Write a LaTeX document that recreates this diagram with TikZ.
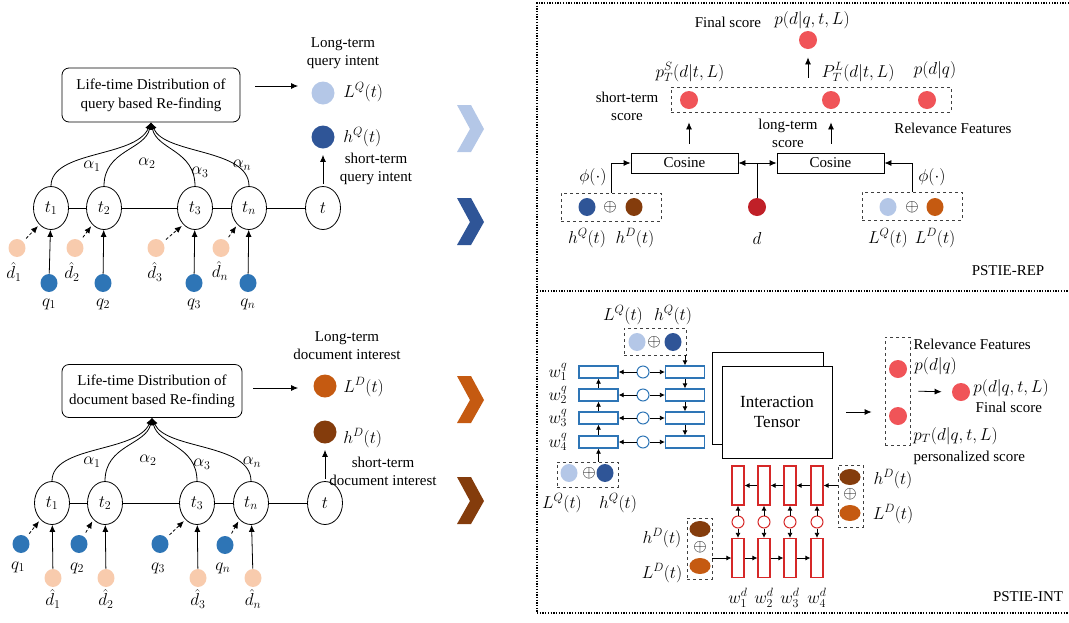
\documentclass[tikz,border=0pt]{standalone}
\usepackage{fontspec}
\setmainfont{Liberation Serif}
\usepackage{tikz}
\usetikzlibrary{arrows.meta,
                positioning,
                shapes.geometric
            }

\definecolor{lightq}{RGB}{180,199,231}
\definecolor{darkq}{RGB}{47,85,151}
\definecolor{qblue}{RGB}{46,117,182}
\definecolor{peach}{RGB}{248,203,173}
\definecolor{orngd}{RGB}{197,90,17}
\definecolor{brownd}{RGB}{132,60,12}
\definecolor{scorered}{RGB}{240,84,88}
\definecolor{docred}{RGB}{192,32,40}
\definecolor{rectred}{RGB}{214,40,40}

\begin{document}
\begin{tikzpicture}[x=1pt, y=-1pt, line width=0.8pt,
        every node/.style={font=\fontsize{15}{18}\selectfont},
        mth/.style={font=\fontsize{16.5}{18}\selectfont, inner sep=0pt},
        lifebox/.style={draw, rounded corners=7pt, align=center, minimum width=178pt, minimum height=54pt, inner sep=0pt, font=\fontsize{15}{19}\selectfont},
        tnode/.style={draw, ellipse, minimum width=35pt, minimum height=43pt, inner sep=0pt, font=\fontsize{16.5}{18}\selectfont},
        ball/.style={ellipse, minimum width=17pt, minimum height=18pt, inner sep=0pt},
        hball/.style={ellipse, minimum width=21pt, minimum height=16pt, inner sep=0pt},
        bigball/.style={circle, minimum size=23pt, inner sep=0pt},
        sball/.style={circle, minimum size=18pt, inner sep=0pt},
        dbox/.style={draw=black!75, dashed, inner sep=0pt},
        brect/.style={draw=qblue, line width=1.3pt, minimum width=39pt, minimum height=12pt, inner sep=0pt},
        bring/.style={circle, draw=qblue, line width=1pt, minimum size=12pt, inner sep=0pt},
        rrect/.style={draw=rectred, line width=1.2pt, minimum width=12pt, minimum height=39pt, inner sep=0pt},
        rring/.style={circle, draw=rectred, line width=1pt, minimum size=12pt, inner sep=0pt},
        arr/.style={-{Latex[length=7pt, width=6pt]}},
        sarr/.style={-{Latex[length=5pt, width=5pt]}},
        panel/.style={line width=1.3pt, dash pattern=on 1.3pt off 1.4pt}
    ]
    \useasboundingbox (0,0) rectangle (1069,622);

    \node[lifebox] (qlife) at (151,95) {Life-time Distribution of\\query based Re-finding};
    \node[tnode] (qt1) at (51,208) {$t_1$};
    \node[tnode] (qt2) at (104,208) {$t_2$};
    \node[tnode] (qt3) at (195,208) {$t_3$};
    \node[tnode] (qtn) at (249,208) {$t_n$};
    \node[tnode] (qt) at (323,208) {$t$};
    \draw (qt1) -- (qt2) -- (qt3) -- (qtn) -- (qt);
    \draw[arr] (qt1.north) .. controls (51,150) and (135,158) .. (qlife.south);
    \draw[arr] (qt2.north) .. controls (104,150) and (145,150) .. (qlife.south);
    \draw[arr] (qt3.north) .. controls (195,150) and (157,150) .. (qlife.south);
    \draw[arr] (qtn.north) .. controls (249,148) and (165,155) .. (qlife.south);
    \node[mth] (qa1) at (92,166) {$\alpha_1$};
    \node[mth] (qa2) at (147,163) {$\alpha_2$};
    \node[mth] (qa3) at (200,172) {$\alpha_3$};
    \node[mth] (qan) at (242,165) {$\alpha_n$};
    \node[ball, fill=peach] (qdh1) at (17,248) {};
    \node[ball, fill=peach] (qdh2) at (75,248) {};
    \node[ball, fill=peach] (qdh3) at (156,248) {};
    \node[ball, fill=peach] (qdhn) at (221,248) {};
    \node[ball, fill=qblue] (qq1) at (49,283) {};
    \node[ball, fill=qblue] (qq2) at (103,283) {};
    \node[ball, fill=qblue] (qq3) at (194,283) {};
    \node[ball, fill=qblue] (qqn) at (248,283) {};
    \draw[arr, densely dashed, shorten <=4pt, shorten >=2pt] (qdh1) -- (qt1.235);
    \draw[arr, densely dashed, shorten <=4pt, shorten >=2pt] (qdh2) -- (qt2.235);
    \draw[arr, densely dashed, shorten <=4pt, shorten >=2pt] (qdh3) -- (qt3.235);
    \draw[arr, densely dashed, shorten <=4pt, shorten >=2pt] (qdhn) -- (qtn.235);
    \draw[arr] (qq1) -- (qt1);
    \draw[arr] (qq2) -- (qt2);
    \draw[arr] (qq3) -- (qt3);
    \draw[arr] (qqn) -- (qtn);
    \node[mth] (qdh1l) at (14,272) {$\hat{d}_1$};
    \node[mth] (qdh2l) at (72,272) {$\hat{d}_2$};
    \node[mth] (qdh3l) at (155,272) {$\hat{d}_3$};
    \node[mth] (qdhnl) at (220,271) {$\hat{d}_n$};
    \node[mth] (qq1l) at (49,304) {$q_1$};
    \node[mth] (qq2l) at (103,304) {$q_2$};
    \node[mth] (qq3l) at (194,304) {$q_3$};
    \node[mth] (qqnl) at (248,304) {$q_n$};
    \node[bigball, fill=lightq] (lq) at (323,93) {};
    \node[bigball, fill=darkq] (hq) at (323,137) {};
    \node[mth, anchor=west] (lqlab) at (343,92) {$L^Q(t)$};
    \node[mth, anchor=west] (hqlab) at (343,137) {$h^Q(t)$};
    \node[align=center] (qlong) at (343,53) {Long-term\\query intent};
    \node[align=center] (qshort) at (376,169) {short-term\\query intent};
    \draw[arr] ([xshift=15pt, yshift=9pt]qlife.east) -- ([xshift=-13pt, yshift=7pt]lq.west);
    \draw[arr, shorten <=2pt, shorten >=6pt] (qt) -- (hq);

    \node[lifebox, minimum width=180pt, minimum height=53pt] (dlife) at (152,391) {Life-time Distribution of\\document based Re-finding};
    \node[tnode] (dt1) at (52,503) {$t_1$};
    \node[tnode] (dt2) at (105,503) {$t_2$};
    \node[tnode] (dt3) at (197,503) {$t_3$};
    \node[tnode] (dtn) at (251,503) {$t_n$};
    \node[tnode] (dt) at (325,503) {$t$};
    \draw (dt1) -- (dt2) -- (dt3) -- (dtn) -- (dt);
    \draw[arr] (dt1.north) .. controls (52,445) and (136,453) .. (dlife.south);
    \draw[arr] (dt2.north) .. controls (105,445) and (146,445) .. (dlife.south);
    \draw[arr] (dt3.north) .. controls (197,445) and (158,445) .. (dlife.south);
    \draw[arr] (dtn.north) .. controls (251,443) and (166,450) .. (dlife.south);
    \node[mth] (da1) at (92,462) {$\alpha_1$};
    \node[mth] (da2) at (148,460) {$\alpha_2$};
    \node[mth] (da3) at (202,464) {$\alpha_3$};
    \node[mth] (dan) at (252,462) {$\alpha_n$};
    \node[ball, fill=qblue] (dq1) at (21,544) {};
    \node[ball, fill=qblue] (dq2) at (79,544) {};
    \node[ball, fill=qblue] (dq3) at (160,544) {};
    \node[ball, fill=qblue] (dqn) at (225,545) {};
    \node[ball, fill=peach] (ddh1) at (53,578) {};
    \node[ball, fill=peach] (ddh2) at (106,578) {};
    \node[ball, fill=peach] (ddh3) at (198,578) {};
    \node[ball, fill=peach] (ddhn) at (253,578) {};
    \draw[arr, densely dashed, shorten <=4pt, shorten >=2pt] (dq1) -- (dt1.235);
    \draw[arr, densely dashed, shorten <=4pt, shorten >=2pt] (dq2) -- (dt2.235);
    \draw[arr, densely dashed, shorten <=4pt, shorten >=2pt] (dq3) -- (dt3.235);
    \draw[arr, densely dashed, shorten <=4pt, shorten >=2pt] (dqn) -- (dtn.235);
    \draw[arr] (ddh1) -- (dt1);
    \draw[arr] (ddh2) -- (dt2);
    \draw[arr] (ddh3) -- (dt3);
    \draw[arr] (ddhn) -- (dtn);
    \node[mth] (dq1l) at (18,567) {$q_1$};
    \node[mth] (dq2l) at (77,568) {$q_2$};
    \node[mth] (dq3l) at (158,568) {$q_3$};
    \node[mth] (dqnl) at (223,568) {$q_n$};
    \node[mth] (ddh1l) at (53,599) {$\hat{d}_1$};
    \node[mth] (ddh2l) at (106,599) {$\hat{d}_2$};
    \node[mth] (ddh3l) at (198,599) {$\hat{d}_3$};
    \node[mth] (ddhnl) at (253,599) {$\hat{d}_n$};
    \node[bigball, fill=orngd] (ld) at (325,386) {};
    \node[bigball, fill=brownd] (hd) at (325,432) {};
    \node[mth, anchor=west] (ldlab) at (343,387) {$L^D(t)$};
    \node[mth, anchor=west] (hdlab) at (343,438) {$h^D(t)$};
    \node[align=center] (dlong) at (347,346) {Long-term\\document interest};
    \node[align=center] (dshort) at (383,471) {short-term\\document interest};
    \draw[arr] ([xshift=11pt, yshift=3pt]dlife.east) -- ([xshift=-15pt, yshift=-2pt]ld.west);
    \draw[arr, shorten <=2pt, shorten >=6pt] (dt) -- (hd);

    \fill[lightq] (457,105) -- (471,105) -- (484,129) -- (471,152) -- (457,152) -- (470,129) -- cycle;
    \fill[darkq] (457,198) -- (471,198) -- (484,222) -- (471,245) -- (457,245) -- (470,222) -- cycle;
    \fill[orngd] (457,376) -- (471,376) -- (484,400) -- (471,423) -- (457,423) -- (470,400) -- cycle;
    \fill[brownd] (457,477) -- (471,477) -- (484,501) -- (471,524) -- (457,524) -- (470,501) -- cycle;

    \draw[panel] (1069,3) -- (537,3) -- (537,613) -- (1069,613);
    \draw[panel] (537,291) -- (1069,291);

    \node[sball, fill=scorered] (fin) at (808,40) {};
    \node (finlab) at (728,22) {Final score};
    \node[mth] (finp) at (812,20) {$p(d|q,t,L)$};
    \node[dbox, minimum width=280pt, minimum height=25pt] (relbox) at (811,99.5) {};
    \node[sball, fill=scorered] (srel) at (689,100) {};
    \node[sball, fill=scorered] (lrel) at (831,100) {};
    \node[sball, fill=scorered] (prel) at (927,100) {};
    \node[mth] (srellab) at (690,72) {$p_T^S(d|t,L)$};
    \node[mth] (lrellab) at (858,72) {$P_T^L(d|t,L)$};
    \node[mth] (prellab) at (935,70) {$p(d|q)$};
    \node[align=center] (sscore) at (627,106) {short-term\\score};
    \node[align=center] (lscore) at (788,133) {long-term\\score};
    \node (relfeat) at (953,128) {Relevance Features};
    \draw[arr, shorten <=9pt, shorten >=8pt] (relbox.north -| fin) -- (fin);
    \node[draw, minimum width=107pt, minimum height=20pt, inner sep=0pt] (cos1) at (684.5,163) {Cosine};
    \node[draw, minimum width=107pt, minimum height=20pt, inner sep=0pt] (cos2) at (830.5,163) {Cosine};
    \draw[arr, shorten <=9pt, shorten >=10pt] (cos1.north -| srel) -- (srel |- relbox.south);
    \draw[arr, shorten <=9pt, shorten >=10pt] (cos2.north -| lrel) -- (lrel |- relbox.south);
    \node[sball, fill=docred] (dvec) at (757,207) {};
    \node[mth] (dlab) at (757,238) {$d$};
    \coordinate (dsplit) at (757,163);
    \draw (dvec) -- (dsplit);
    \draw[arr] (dsplit) -- (cos1.east);
    \draw[arr] (dsplit) -- (cos2.west);
    \node[dbox, minimum width=100pt, minimum height=28pt] (hcat) at (611,207) {};
    \node[ball, fill=darkq] (hcatq) at (587,207) {};
    \node[mth] (hcatp) at (610,207) {$\oplus$};
    \node[ball, fill=brownd] (hcatd) at (634,207) {};
    \draw[arr] (hcat.north) |- (cos1.west);
    \node[mth] (hphi) at (593,177) {$\phi(\cdot)$};
    \node[mth] (hcatql) at (587,238) {$h^Q(t)$};
    \node[mth] (hcatdl) at (635,238) {$h^D(t)$};
    \node[dbox, minimum width=100pt, minimum height=28pt] (lcat) at (912,206) {};
    \node[ball, fill=lightq] (lcatq) at (888,207) {};
    \node[mth] (lcatp) at (912,207) {$\oplus$};
    \node[ball, fill=orngd] (lcatd) at (935,207) {};
    \draw[arr] (lcat.north) |- (cos2.east);
    \node[mth] (lphi) at (932,177) {$\phi(\cdot)$};
    \node[mth] (lcatql) at (888,238) {$L^Q(t)$};
    \node[mth] (lcatdl) at (935,238) {$L^D(t)$};
    \node (rep) at (1008,271) {PSTIE-REP};

    \node[mth] (qtopl1) at (623,315) {$L^Q(t)$};
    \node[mth] (qtopl2) at (673,315) {$h^Q(t)$};
    \node[dbox, minimum width=62pt, minimum height=27pt] (qtop) at (655,341.5) {};
    \node[ball, fill=lightq] (qtopq) at (637,342) {};
    \node[mth] (qtopp) at (654,342) {$\oplus$};
    \node[ball, fill=darkq] (qtoph) at (673,342) {};
    \node[brect] (ql1) at (598.5,372) {};
    \node[brect] (ql2) at (598.5,395) {};
    \node[brect] (ql3) at (598.5,418) {};
    \node[brect] (ql4) at (598.5,442) {};
    \node[brect] (qr1) at (685,372) {};
    \node[brect] (qr2) at (685,395) {};
    \node[brect] (qr3) at (685,418) {};
    \node[brect] (qr4) at (685,442) {};
    \node[bring] (qc1) at (643,372) {};
    \node[bring] (qc2) at (643,395) {};
    \node[bring] (qc3) at (643,418) {};
    \node[bring] (qc4) at (643,442) {};
    \draw[sarr] (qc1) -- (ql1);
    \draw[sarr] (qc2) -- (ql2);
    \draw[sarr] (qc3) -- (ql3);
    \draw[sarr] (qc4) -- (ql4);
    \draw[sarr] (qc1) -- (qr1);
    \draw[sarr] (qc2) -- (qr2);
    \draw[sarr] (qc3) -- (qr3);
    \draw[sarr] (qc4) -- (qr4);
    \draw[sarr] (qtop.south -| qr1) -- (qr1);
    \draw[sarr] (qr1) -- (qr2);
    \draw[sarr] (qr2) -- (qr3);
    \draw[sarr] (qr3) -- (qr4);
    \node[dbox, minimum width=61pt, minimum height=25pt] (qbot) at (587.5,474.5) {};
    \node[ball, fill=lightq] (qbotq) at (569,473) {};
    \node[mth] (qbotp) at (589,473) {$\oplus$};
    \node[ball, fill=darkq] (qboth) at (605,473) {};
    \draw[sarr] (qbot.north -| ql4) -- (ql4);
    \draw[sarr] (ql4) -- (ql3);
    \draw[sarr] (ql3) -- (ql2);
    \draw[sarr] (ql2) -- (ql1);
    \node[mth] (qbotl1) at (562,503) {$L^Q(t)$};
    \node[mth] (qbotl2) at (618,503) {$h^Q(t)$};
    \node[mth] (wq1) at (558,372) {$w_1^q$};
    \node[mth] (wq2) at (558,395) {$w_2^q$};
    \node[mth] (wq3) at (558,418) {$w_3^q$};
    \node[mth] (wq4) at (558,442) {$w_4^q$};

    \node[draw, minimum width=111pt, minimum height=92pt] (tback) at (767.5,398) {};
    \node[draw, fill=white, minimum width=110pt, minimum height=92pt, align=center, font=\fontsize{17}{20}\selectfont] (tfront) at (777,412) {Interaction\\Tensor};
    \node[dbox, minimum width=25pt, minimum height=108pt] (rfeat) at (897.5,391) {};
    \draw[arr, shorten <=14pt, shorten >=13pt] (tfront.east) -- (tfront.east -| rfeat.west);
    \node[sball, fill=scorered] (rf1) at (898,369) {};
    \node[sball, fill=scorered] (rf2) at (898,416) {};
    \node[anchor=west] (rflab) at (910,344) {Relevance Features};
    \node[mth, anchor=west] (rfp) at (914,366) {$p(d|q)$};
    \node[sball, fill=scorered] (fin2) at (961,392) {};
    \draw[arr, shorten <=8pt, shorten >=10pt] (rfeat.east) -- (fin2.west);
    \node[mth, anchor=west] (fin2p) at (973,388) {$p(d|q,t,L)$};
    \node[anchor=west] (fin2lab) at (972,407) {Final score};
    \node[mth, anchor=west] (ptp) at (913,436) {$p_T(d|q,t,L)$};
    \node[anchor=west] (ptlab) at (910,458) {personalized score};

    \node[rrect] (du1) at (738,485.5) {};
    \node[rrect] (du2) at (764,485.5) {};
    \node[rrect] (du3) at (790,485.5) {};
    \node[rrect] (du4) at (817,485.5) {};
    \node[rrect] (dl1) at (738,558) {};
    \node[rrect] (dl2) at (764,558) {};
    \node[rrect] (dl3) at (790,558) {};
    \node[rrect] (dl4) at (817,558) {};
    \node[rring] (dc1) at (738,522) {};
    \node[rring] (dc2) at (764,522) {};
    \node[rring] (dc3) at (790,522) {};
    \node[rring] (dc4) at (817,522) {};
    \draw[sarr] (dc1) -- (du1);
    \draw[sarr] (dc2) -- (du2);
    \draw[sarr] (dc3) -- (du3);
    \draw[sarr] (dc4) -- (du4);
    \draw[sarr] (dc1) -- (dl1);
    \draw[sarr] (dc2) -- (dl2);
    \draw[sarr] (dc3) -- (dl3);
    \draw[sarr] (dc4) -- (dl4);
    \node[dbox, minimum width=25pt, minimum height=62pt] (dcatr) at (850.5,496) {};
    \node[hball, fill=brownd] (dcatrh) at (850,477) {};
    \node[mth] (dcatrp) at (850,494.5) {$\oplus$};
    \node[hball, fill=orngd] (dcatrl) at (850,513) {};
    \draw[sarr] (dcatr.west |- du4) -- (du4);
    \draw[sarr] (du4) -- (du3);
    \draw[sarr] (du3) -- (du2);
    \draw[sarr] (du2) -- (du1);
    \node[mth] (dcatrhl) at (893,479) {$h^D(t)$};
    \node[mth] (dcatrll) at (893,514) {$L^D(t)$};
    \node[dbox, minimum width=25pt, minimum height=61pt] (dcatl) at (699.5,548.5) {};
    \node[hball, fill=brownd] (dcatlh) at (700,529) {};
    \node[mth] (dcatlp) at (700,547) {$\oplus$};
    \node[hball, fill=orngd] (dcatll) at (700,566) {};
    \draw[sarr] (dcatl.east |- dl1) -- (dl1);
    \draw[sarr] (dl1) -- (dl2);
    \draw[sarr] (dl2) -- (dl3);
    \draw[sarr] (dl3) -- (dl4);
    \node[mth] (dcatlhl) at (662,538) {$h^D(t)$};
    \node[mth] (dcatlll) at (662,573) {$L^D(t)$};
    \node[mth] (wd1) at (738,598) {$w_1^d$};
    \node[mth] (wd2) at (764,598) {$w_2^d$};
    \node[mth] (wd3) at (790,598) {$w_3^d$};
    \node[mth] (wd4) at (817,598) {$w_4^d$};
    \node (int) at (1028,597) {PSTIE-INT};
\end{tikzpicture}
\end{document}
